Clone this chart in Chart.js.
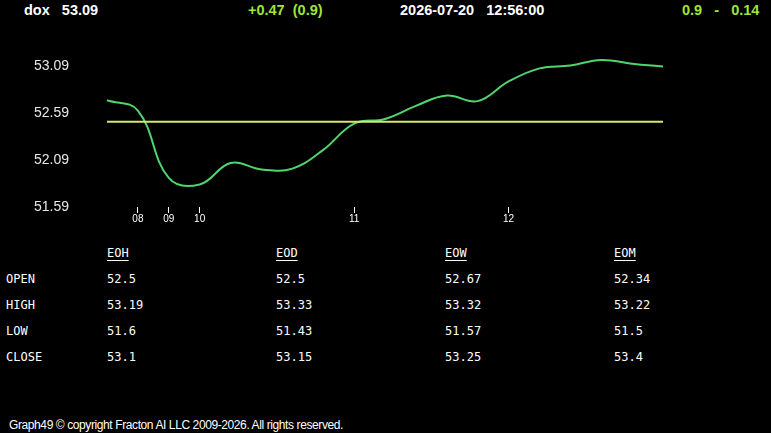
<!DOCTYPE html>
<html lang="en">
<head>
<meta charset="UTF-8">
<title>dox</title>
<script src="https://cdn.jsdelivr.net/npm/chart.js"></script>
<style>
    html, body { margin: 0; padding: 0; background: #000; }
    body { width: 771px; height: 433px; position: relative; overflow: hidden; color: #fff; }
    .hdr { position: absolute; top: 2px; font: bold 14.5px "Liberation Sans", Arial, sans-serif; white-space: pre; }
    .lime { color: #9ee53a; }
    #chartBox { position: absolute; left: 0; top: 0; width: 771px; height: 236px; }
    .cell { position: absolute; font: 12px "DejaVu Sans Mono", monospace; white-space: pre; color: #fff; }
    .head { text-decoration: underline; text-underline-offset: 3px; }
    .foot { position: absolute; left: 9px; top: 418px; font: 12px "Liberation Sans", Arial, sans-serif; color: #fff; letter-spacing: -0.4px; }
</style>
</head>
<body>
<div class="hdr" style="left:24px">dox   53.09</div>
<div class="hdr lime" style="left:248px">+0.47  (0.9)</div>
<div class="hdr" style="left:400px">2026-07-20   12:56:00</div>
<div class="hdr lime" style="left:682px">0.9   -   0.14</div>
<div id="chartBox"><canvas id="c"></canvas></div>
<div id="table"></div>
<div class="foot">Graph49 © copyright Fracton AI LLC 2009-2026. All rights reserved.</div>
<script>
    // hour labels shown under the axis (empty = no label)
    const hours = ['', '08', '09', '10', '', '', '', '', '11', '', '', '', '', '12', '', '', '', '', ''];
    const price = [52.73, 52.62, 51.90, 51.83, 52.06, 51.99, 52.00, 52.20, 52.48, 52.53, 52.67, 52.78, 52.72, 52.93, 53.07, 53.10, 53.16, 53.12, 53.09];
    const openLevel = 52.5;
    const yTicks = [51.59, 52.09, 52.59, 53.09];

    // summary table
    const periods = ['EOH', 'EOD', 'EOW', 'EOM'];
    const rowNames = ['OPEN', 'HIGH', 'LOW', 'CLOSE'];
    const openVals = ['52.5', '52.5', '52.67', '52.34'];
    const highVals = ['53.19', '53.33', '53.32', '53.22'];
    const lowVals = ['51.6', '51.43', '51.57', '51.5'];
    const closeVals = ['53.1', '53.15', '53.25', '53.4'];

    const colX = [107, 276, 445, 614];
    const rowY = [272, 298, 324, 350];
    const tbl = document.getElementById('table');
    function addCell(text, x, y, cls) {
        const d = document.createElement('div');
        d.className = 'cell' + (cls ? ' ' + cls : '');
        d.style.left = x + 'px';
        d.style.top = y + 'px';
        d.textContent = text;
        tbl.appendChild(d);
    }
    periods.forEach((p, i) => addCell(p, colX[i], 246, 'head'));
    [openVals, highVals, lowVals, closeVals].forEach((vals, r) => {
        addCell(rowNames[r], 6, rowY[r]);
        vals.forEach((v, i) => addCell(v, colX[i], rowY[r]));
    });

    const ctx = document.getElementById('c').getContext('2d');
    new Chart(ctx, {
        type: 'line',
        data: {
            labels: hours,
            datasets: [
                {
                    data: hours.map(() => openLevel),
                    borderColor: '#d8e66e',
                    borderWidth: 2,
                    pointRadius: 0,
                    tension: 0
                },
                {
                    data: price,
                    borderColor: '#4fd46e',
                    borderWidth: 2,
                    pointRadius: 0,
                    tension: 0.4
                }
            ]
        },
        options: {
            responsive: true,
            maintainAspectRatio: false,
            animation: false,
            layout: { padding: { left: 34, right: 108, top: 44, bottom: 0 } },
            plugins: { legend: { display: false }, tooltip: { enabled: false } },
            scales: {
                x: {
                    offset: false,
                    border: { display: false },
                    grid: {
                        drawOnChartArea: false,
                        tickLength: 6,
                        tickWidth: 1,
                        color: ctx => (ctx.tick && ctx.tick.label) ? '#ffffff' : 'rgba(0,0,0,0)'
                    },
                    ticks: {
                        autoSkip: false,
                        maxRotation: 0,
                        padding: 0,
                        color: '#ffffff',
                        font: { family: 'Liberation Sans, Arial', size: 10 }
                    },
                    afterFit: s => { s.height = 29; }
                },
                y: {
                    min: 51.59,
                    max: 53.33,
                    border: { display: false },
                    grid: { display: false },
                    afterBuildTicks: s => { s.ticks = yTicks.map(v => ({ value: v })); },
                    ticks: {
                        crossAlign: 'far',
                        color: '#e8e8e8',
                        font: { family: 'Liberation Sans, Arial', size: 14 },
                        callback: v => v.toFixed(2)
                    },
                    afterFit: s => { s.width = 73; }
                }
            }
        }
    });
</script>
</body>
</html>
